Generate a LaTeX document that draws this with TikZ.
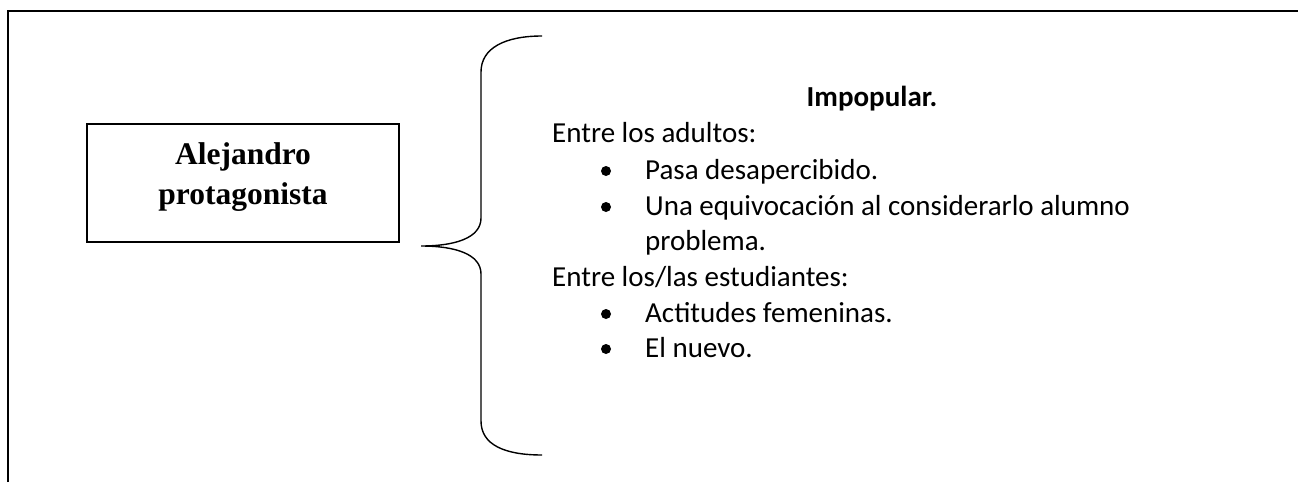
\documentclass[tikz,border=0pt]{standalone}
\usepackage{fontspec}
\setmainfont{Carlito}
\newfontfamily\boxfont{Liberation Serif}
\usetikzlibrary{positioning}
\tikzset{
frame line/.style = { draw = black, line width = 2.4pt },
name box/.style = { rectangle, draw = black, line width = 1.4pt, minimum width = 312pt, minimum height = 118pt },
name text/.style = { align = center, inner sep = 0pt, font = \boxfont\bfseries\fontsize{31.5}{40}\selectfont },
list head/.style = { anchor = base, inner sep = 0pt, font = \bfseries\fontsize{29}{35}\selectfont },
list text/.style = { anchor = base west, inner sep = 0pt, font = \fontsize{29}{35}\selectfont },
list dot/.style = { circle, fill = black, inner sep = 0pt, minimum size = 10pt },
brace line/.style = { draw = black, line width = 1.4pt },
}

\begin{document}
\begin{tikzpicture}[x = 1pt, y = -1pt]
    \useasboundingbox (0, 0) rectangle (1298, 482);
    % frame
    \draw[frame line] (8, 482) -- (8, 11) -- (1298, 11);
    % box
    \node[name box] (hero) at (243, 183) {};
    \node[name text] (hero name) at (243, 177) {Alejandro\\protagonista};
    % brace
    \coordinate (brace top) at (542, 36);
    \coordinate (brace tip) at (421, 246);
    \coordinate (brace bottom) at (542, 455);
    \draw[brace line] (brace top) .. controls (505, 36) and (481, 48) .. (481, 72) -- (481, 218) .. controls (481, 238) and (455, 246) .. (brace tip) .. controls (455, 246) and (481, 254) .. (481, 274) -- (481, 421) .. controls (481, 445) and (505, 455) .. (brace bottom);
    % list
    \node[list head] (head) at (872, 106) {Impopular.};
    \node[list text] (adults) at (552, 142) {Entre los adultos:};
    \node[list dot] (dot1) at (606, 171) {};
    \node[list text] (item1) at (645, 179) {Pasa desapercibido.};
    \node[list dot] (dot2) at (606, 207) {};
    \node[list text] (item2) at (645, 215) {Una equivocación al considerarlo alumno};
    \node[list text] (item2b) at (645, 250) {problema.};
    \node[list text] (students) at (552, 286) {Entre los/las estudiantes:};
    \node[list dot] (dot3) at (606, 314) {};
    \node[list text] (item3) at (645, 322) {Actitudes femeninas.};
    \node[list dot] (dot4) at (606, 349) {};
    \node[list text] (item4) at (645, 357) {El nuevo.};
  \end{tikzpicture}
\end{document}
